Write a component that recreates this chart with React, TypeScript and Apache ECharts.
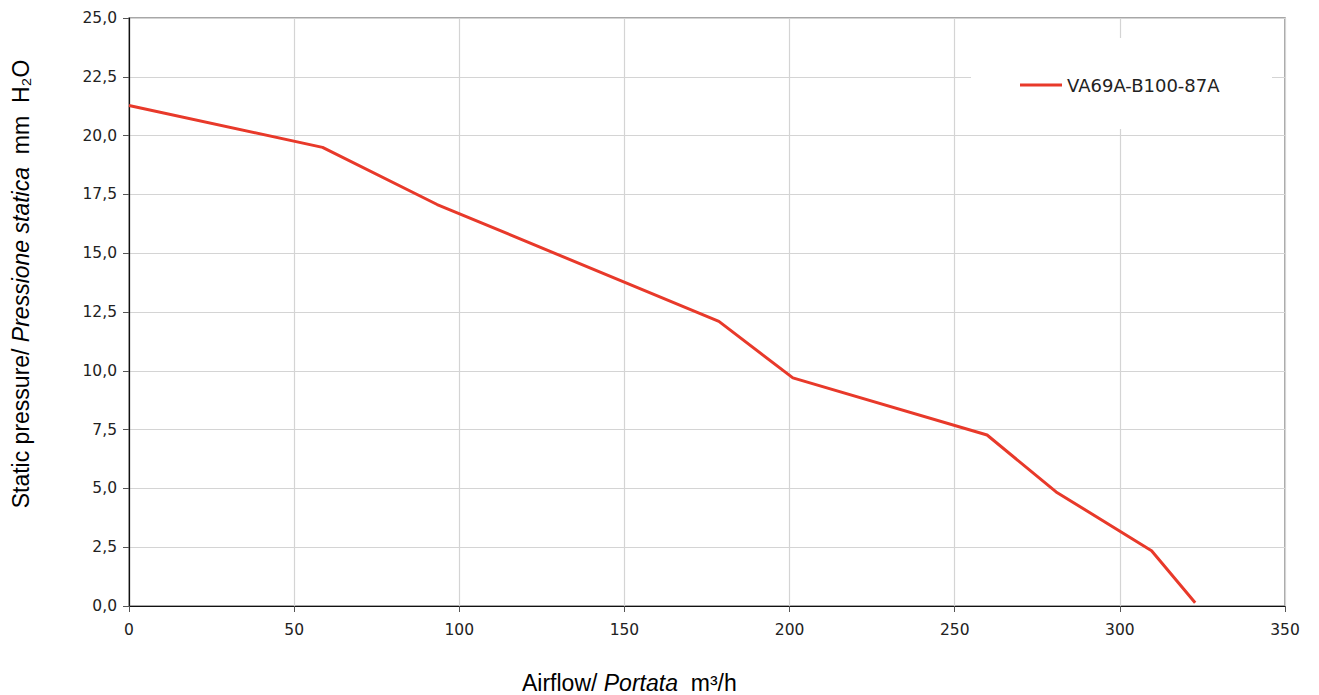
import React, { useEffect, useRef } from "react";
import * as echarts from "echarts";

const airflow = [0, 58.6, 93.3, 178.6, 201.0, 259.8, 280.7, 309.6, 322.8];
const pressure = [21.28, 19.5, 17.07, 12.1, 9.7, 7.27, 4.85, 2.35, 0.14];
const seriesName = "VA69A-B100-87A";

export default function App() {
  const ref = useRef<HTMLDivElement>(null);
  useEffect(() => {
    const chart = echarts.init(ref.current!, null, { renderer: "svg" });
    const tickFont = { fontFamily: "DejaVu Sans", fontSize: 15.5, color: "#222" };
    const titleRich = {
      n: { fontFamily: "Liberation Sans", fontSize: 23, color: "#222" },
      i: { fontFamily: "Liberation Sans", fontSize: 23, fontStyle: "italic", color: "#222" },
    };
    chart.setOption({
      animation: false,
      backgroundColor: "#fff",
      grid: {
        left: 129,
        right: 34,
        top: 18,
        bottom: 89,
        outerBoundsMode: "none",
        show: true,
        borderColor: "#8a8a8a",
        borderWidth: 1.5,
      },
      legend: {
        data: [seriesName],
        left: 1015,
        top: 71,
        itemWidth: 42,
        itemHeight: 3,
        itemGap: 0,
        icon: "rect",
        textStyle: { fontFamily: "DejaVu Sans", fontSize: 18, color: "#222" },
      },
      graphic: [
        { type: "rect", z: 1, shape: { x: 971, y: 38, width: 301, height: 91 }, style: { fill: "#fff" } },
        {
          type: "text",
          z: 5,
          x: 522,
          y: 683,
          style: {
            text: "{n|Airflow/ }{i|Portata}{n|  m³/h}",
            rich: titleRich,
            align: "left",
            verticalAlign: "middle",
          },
        },
        {
          type: "text",
          z: 5,
          x: 21,
          y: 284,
          rotation: Math.PI / 2,
          style: {
            text: "{n|Static pressure/ }{i|Pressione statica}{n|  mm  H₂O}",
            rich: titleRich,
            align: "center",
            verticalAlign: "middle",
          },
        },
      ],
      xAxis: {
        type: "value",
        min: 0,
        max: 350,
        interval: 50,
        axisLine: { show: true, onZero: false, lineStyle: { color: "#111", width: 1.2 } },
        axisTick: { show: true, length: 6, lineStyle: { color: "#555" } },
        axisLabel: { ...tickFont, margin: 16 },
        splitLine: { show: true, lineStyle: { color: "#d4d4d4", width: 1.2 } },
      },
      yAxis: {
        type: "value",
        min: 0,
        max: 25,
        interval: 2.5,
        axisLine: { show: true, onZero: false, lineStyle: { color: "#111", width: 1.2 } },
        axisTick: { show: true, length: 6, lineStyle: { color: "#555" } },
        axisLabel: { ...tickFont, margin: 12, formatter: (v: number) => v.toFixed(1).replace(".", ",") },
        splitLine: { show: true, lineStyle: { color: "#d4d4d4", width: 1.2 } },
      },
      series: [
        {
          name: seriesName,
          type: "line",
          z: 3,
          data: airflow.map((x, i) => [x, pressure[i]]),
          showSymbol: false,
          symbol: "none",
          lineStyle: { color: "#e8392a", width: 3 },
          itemStyle: { color: "#e8392a" },
        },
      ],
    });
    return () => chart.dispose();
  }, []);
  return <div ref={ref} style={{ position: "fixed", left: 0, top: 0, width: 1319, height: 695 }} />;
}
